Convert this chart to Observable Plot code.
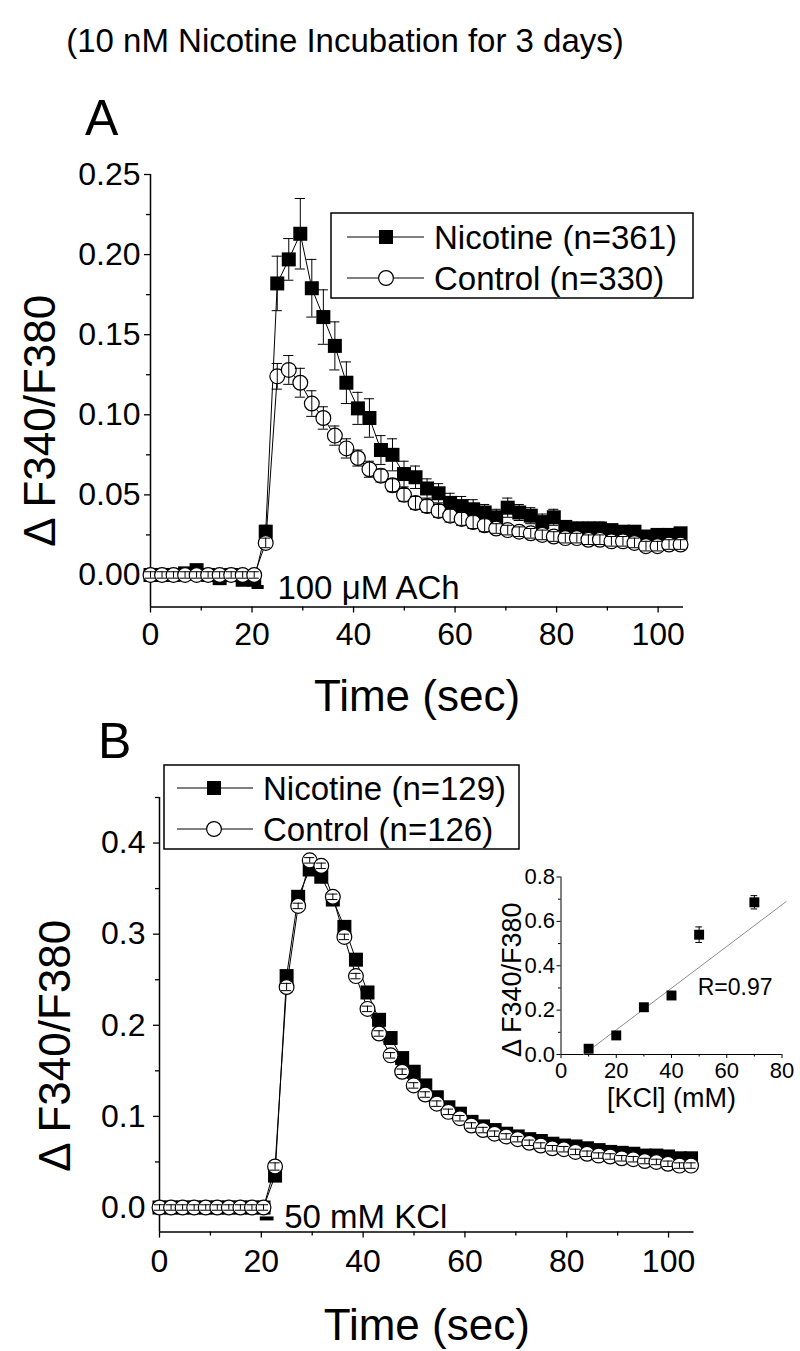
<!DOCTYPE html>
<html><head><meta charset="utf-8">
<script src="https://cdn.jsdelivr.net/npm/d3@7"></script>
<script src="https://cdn.jsdelivr.net/npm/@observablehq/plot@0.6"></script>
<style>
html,body{margin:0;padding:0;background:#fff;}
#fig{position:relative;width:800px;height:1351px;overflow:hidden;font-family:"Liberation Sans",Arial,sans-serif;color:#000;background:#fff;}
#fig svg{position:absolute;}
.lbl{position:absolute;line-height:1;white-space:nowrap;}
</style></head><body><div id="fig"></div>
<script>
// ---------------- data ----------------
const titleText = "(10 nM Nicotine Incubation for 3 days)";
const panelLetters = ["A", "B"];
const legendLabelsA = ["Nicotine (n=361)", "Control (n=330)"];
const legendLabelsB = ["Nicotine (n=129)", "Control (n=126)"];
const xLabel = "Time (sec)";
const yLabel = "\u0394 F340/F380";
const insetXLabel = "[KCl] (mM)";

const timeSec = [0, 2.27, 4.54, 6.81, 9.08, 11.35, 13.62, 15.89, 18.16, 20.43,
  22.7, 24.97, 27.24, 29.51, 31.78, 34.05, 36.32, 38.59, 40.86, 43.13,
  45.4, 47.67, 49.94, 52.21, 54.48, 56.75, 59.02, 61.29, 63.56, 65.83,
  68.1, 70.37, 72.64, 74.91, 77.18, 79.45, 81.72, 83.99, 86.26, 88.53,
  90.8, 93.07, 95.34, 97.61, 99.88, 102.15, 104.42];

// Panel A (100 uM ACh)
const nicA = [0.000, 0.000, 0.000, 0.001, 0.003, 0.000, -0.002, 0.000, -0.003, -0.003,
  0.027, 0.182, 0.197, 0.213, 0.179, 0.161, 0.143, 0.120, 0.104, 0.098,
  0.078, 0.075, 0.063, 0.061, 0.054, 0.051, 0.045, 0.043, 0.041, 0.039,
  0.036, 0.042, 0.039, 0.037, 0.033, 0.036, 0.030, 0.029, 0.029, 0.029,
  0.028, 0.027, 0.027, 0.024, 0.025, 0.025, 0.026];
const nicAErr = [0.002, 0.002, 0.002, 0.002, 0.002, 0.002, 0.002, 0.002, 0.002, 0.002,
  0.004, 0.017, 0.013, 0.022, 0.018, 0.017, 0.015, 0.013, 0.010, 0.012,
  0.009, 0.010, 0.008, 0.007, 0.006, 0.006, 0.006, 0.006, 0.006, 0.005,
  0.005, 0.006, 0.005, 0.005, 0.005, 0.005, 0.004, 0.004, 0.004, 0.004,
  0.003, 0.003, 0.003, 0.003, 0.003, 0.003, 0.003];
const conA = [0.000, 0.000, 0.000, 0.000, 0.000, 0.000, 0.000, 0.000, 0.000, 0.000,
  0.020, 0.124, 0.128, 0.120, 0.107, 0.098, 0.087, 0.079, 0.073, 0.066,
  0.062, 0.056, 0.050, 0.045, 0.043, 0.040, 0.037, 0.035, 0.033, 0.031,
  0.029, 0.028, 0.027, 0.026, 0.025, 0.024, 0.023, 0.023, 0.022, 0.022,
  0.021, 0.021, 0.020, 0.018, 0.018, 0.019, 0.019];
const conAErr = [0.002, 0.002, 0.002, 0.002, 0.002, 0.002, 0.002, 0.002, 0.002, 0.002,
  0.003, 0.008, 0.009, 0.009, 0.008, 0.007, 0.006, 0.006, 0.005, 0.005,
  0.004, 0.004, 0.004, 0.004, 0.004, 0.004, 0.004, 0.004, 0.004, 0.004,
  0.003, 0.003, 0.003, 0.003, 0.003, 0.003, 0.003, 0.003, 0.003, 0.003,
  0.003, 0.003, 0.003, 0.003, 0.003, 0.003, 0.003];

// Panel B (50 mM KCl)
const nicB = [0, 0, 0, 0, 0, 0, 0, 0, 0, 0,
  0.035, 0.254, 0.341, 0.371, 0.363, 0.338, 0.308, 0.272, 0.236, 0.206,
  0.186, 0.164, 0.149, 0.134, 0.121, 0.110, 0.103, 0.094, 0.089, 0.085,
  0.081, 0.078, 0.075, 0.073, 0.070, 0.068, 0.067, 0.065, 0.063, 0.061,
  0.060, 0.059, 0.057, 0.057, 0.056, 0.054, 0.054];
const nicBErr = [0.002, 0.002, 0.002, 0.002, 0.002, 0.002, 0.002, 0.002, 0.002, 0.002,
  0.003, 0.004, 0.004, 0.004, 0.004, 0.004, 0.004, 0.004, 0.004, 0.004,
  0.003, 0.003, 0.003, 0.003, 0.003, 0.003, 0.003, 0.003, 0.003, 0.003,
  0.003, 0.003, 0.003, 0.003, 0.003, 0.003, 0.003, 0.003, 0.003, 0.003,
  0.003, 0.003, 0.003, 0.003, 0.003, 0.003, 0.003];
const conB = [0, 0, 0, 0, 0, 0, 0, 0, 0, 0,
  0.045, 0.242, 0.331, 0.381, 0.375, 0.341, 0.297, 0.254, 0.218, 0.191,
  0.167, 0.149, 0.134, 0.124, 0.114, 0.105, 0.098, 0.090, 0.085, 0.081,
  0.078, 0.075, 0.071, 0.068, 0.065, 0.064, 0.061, 0.059, 0.057, 0.056,
  0.054, 0.053, 0.051, 0.050, 0.048, 0.046, 0.046];
const conBErr = [0.003, 0.003, 0.003, 0.003, 0.003, 0.003, 0.003, 0.003, 0.003, 0.003,
  0.004, 0.004, 0.003, 0.003, 0.003, 0.003, 0.003, 0.003, 0.003, 0.003,
  0.003, 0.003, 0.003, 0.003, 0.003, 0.003, 0.003, 0.003, 0.003, 0.003,
  0.003, 0.003, 0.003, 0.003, 0.003, 0.003, 0.003, 0.003, 0.003, 0.003,
  0.003, 0.003, 0.003, 0.003, 0.003, 0.003, 0.003];

// stimulus bars and their labels
const stimA = [{t1: 20.0, t2: 22.4, v: -0.0075}];
const annotA = [{t: 25, v: -0.0082, label: "100 \u03bcM ACh"}];
const stimB = [{t1: 19.8, t2: 22.5, v: -0.012}];
const annotB = [{t: 24.5, v: -0.011, label: "50 mM KCl"}];

// inset: peak response vs [KCl]
const kcl = [10, 20, 30, 40, 50, 70];
const kclResp = [0.026, 0.086, 0.213, 0.266, 0.540, 0.686];
const kclErr = [0.010, 0.010, 0.012, 0.015, 0.035, 0.030];
const fitSlope = 0.0094, fitIntercept = -0.077, fitRange = [8.2, 81.5];
const rLabel = [{x: 49.5, y: 0.30, text: "R=0.97"}];

// axes
const xDomain = [0, 105];
const xMajor = [0, 20, 40, 60, 80, 100];
const xMinor = [10, 30, 50, 70, 90];
const yDomainA = [-0.02, 0.25];
const yMajorA = [0, 0.05, 0.10, 0.15, 0.20, 0.25];
const yMinorA = [0.025, 0.075, 0.125, 0.175, 0.225];
const yDomainB = [-0.027, 0.45];
const yMajorB = [0, 0.1, 0.2, 0.3, 0.4];
const yMinorB = [0.05, 0.15, 0.25, 0.35, 0.45];
const insetXDomain = [0, 80];
const insetXMajor = [0, 20, 40, 60, 80];
const insetXMinor = [10, 30, 50, 70];
const insetYDomain = [0, 0.8];
const insetYMajor = [0, 0.2, 0.4, 0.6, 0.8];
const insetYMinor = [0.1, 0.3, 0.5, 0.7];

// ---------------- drawing ----------------
const FONT = '"Liberation Sans", Arial, sans-serif';
const fig = document.getElementById("fig");
const CAP = 1.0;

const rowsA = timeSec.map((t, i) => ({t, nic: nicA[i], nicE: nicAErr[i], con: conA[i], conE: conAErr[i]}));
const rowsB = timeSec.map((t, i) => ({t, nic: nicB[i], nicE: nicBErr[i], con: conB[i], conE: conBErr[i]}));

function errMarks(rows, key, ek) {
  return [
    Plot.ruleX(rows, {x: "t", y1: d => d[key] - d[ek], y2: d => d[key] + d[ek], stroke: "black", strokeWidth: 1}),
    Plot.ruleY(rows, {y: d => d[key] + d[ek], x1: d => d.t - CAP, x2: d => d.t + CAP, stroke: "black", strokeWidth: 1}),
    Plot.ruleY(rows, {y: d => d[key] - d[ek], x1: d => d.t - CAP, x2: d => d.t + CAP, stroke: "black", strokeWidth: 1})
  ];
}
function seriesMarks(rows) {
  return [
    Plot.line(rows, {x: "t", y: "nic", stroke: "black", strokeWidth: 1}),
    ...errMarks(rows, "nic", "nicE"),
    Plot.dot(rows, {x: "t", y: "nic", symbol: "square", r: 7.9, fill: "black", stroke: "none"}),
    Plot.line(rows, {x: "t", y: "con", stroke: "black", strokeWidth: 1}),
    Plot.dot(rows, {x: "t", y: "con", r: 7.4, fill: "white", stroke: "black", strokeWidth: 1.2}),
    ...errMarks(rows, "con", "conE")
  ];
}
function axisMarks(yDomain, yMajor, yMinor, yFmt, xPad, yPad) {
  return [
    Plot.ruleX([xDomain[0]], {stroke: "black", strokeWidth: 1.5}),
    Plot.ruleY([yDomain[0]], {stroke: "black", strokeWidth: 1.5}),
    Plot.axisX({ticks: xMajor, tickSize: 6, tickPadding: xPad, fontSize: 32, label: null, strokeWidth: 1.3, tickFormat: d => String(d)}),
    Plot.axisX({ticks: xMinor, tickSize: 4, label: null, strokeWidth: 1.3, tickFormat: () => ""}),
    Plot.axisY({ticks: yMajor, tickSize: 6, tickPadding: yPad, fontSize: 32, label: null, strokeWidth: 1.3, tickFormat: d3.format(yFmt)}),
    Plot.axisY({ticks: yMinor, tickSize: 4, label: null, strokeWidth: 1.3, tickFormat: () => ""})
  ];
}

const plotA = Plot.plot({
  width: 800, height: 710,
  marginTop: 174, marginLeft: 150, marginRight: 117, marginBottom: 103.5,
  x: {domain: xDomain}, y: {domain: yDomainA},
  style: {fontFamily: FONT, background: "transparent", color: "black", overflow: "visible"},
  marks: [
    ...axisMarks(yDomainA, yMajorA, yMinorA, ".2f", 9, 4),
    ...seriesMarks(rowsA),
    Plot.ruleY(stimA, {x1: "t1", x2: "t2", y: "v", stroke: "black", strokeWidth: 4}),
    Plot.text(annotA, {x: "t", y: "v", text: "label", textAnchor: "start", lineAnchor: "middle", fontSize: 33}),
    Plot.text([xLabel], {frameAnchor: "bottom", dy: 90, fontSize: 44, textAnchor: "middle", lineAnchor: "middle"}),
    Plot.text([yLabel], {frameAnchor: "left", rotate: -90, dx: -110, dy: 30, fontSize: 44, textAnchor: "middle", lineAnchor: "middle"})
  ]
});
plotA.style.left = "0px"; plotA.style.top = "0px";
fig.appendChild(plotA);

const plotB = Plot.plot({
  width: 800, height: 641,
  marginTop: 87, marginLeft: 159, marginRight: 106.5, marginBottom: 119.4,
  x: {domain: xDomain}, y: {domain: yDomainB},
  style: {fontFamily: FONT, background: "transparent", color: "black", overflow: "visible"},
  marks: [
    ...axisMarks(yDomainB, yMajorB, yMinorB, ".1f", 11, 8),
    ...seriesMarks(rowsB),
    Plot.ruleY(stimB, {x1: "t1", x2: "t2", y: "v", stroke: "black", strokeWidth: 4}),
    Plot.text(annotB, {x: "t", y: "v", text: "label", textAnchor: "start", lineAnchor: "middle", fontSize: 33}),
    Plot.text([xLabel], {frameAnchor: "bottom", dy: 94, fontSize: 44, textAnchor: "middle", lineAnchor: "middle"}),
    Plot.text([yLabel], {frameAnchor: "left", rotate: -90, dx: -104, dy: 31, fontSize: 44, textAnchor: "middle", lineAnchor: "middle"})
  ]
});
plotB.style.left = "0px"; plotB.style.top = "710px";
fig.appendChild(plotB);

// inset
const insetRows = kcl.map((k, i) => ({k, v: kclResp[i], e: kclErr[i]}));
const fitPts = fitRange.map(x => ({x, y: fitIntercept + fitSlope * x}));
const inset = Plot.plot({
  width: 320, height: 270,
  marginTop: 26.5, marginLeft: 80.5, marginRight: 18.5, marginBottom: 66,
  x: {domain: insetXDomain}, y: {domain: insetYDomain},
  style: {fontFamily: FONT, background: "transparent", color: "black", overflow: "visible"},
  marks: [
    Plot.ruleX([insetXDomain[0]], {stroke: "black", strokeWidth: 1}),
    Plot.ruleY([insetYDomain[0]], {stroke: "black", strokeWidth: 1}),
    Plot.axisX({ticks: insetXMajor, tickSize: 4, tickPadding: 4, fontSize: 22, label: null, tickFormat: d => String(d)}),
    Plot.axisX({ticks: insetXMinor, tickSize: 2.5, label: null, tickFormat: () => ""}),
    Plot.axisY({ticks: insetYMajor, tickSize: 4, tickPadding: 2, fontSize: 22, label: null, tickFormat: d3.format(".1f")}),
    Plot.axisY({ticks: insetYMinor, tickSize: 2.5, label: null, tickFormat: () => ""}),
    Plot.line(fitPts, {x: "x", y: "y", stroke: "#8c8c8c", strokeWidth: 1}),
    Plot.ruleX(insetRows, {x: "k", y1: d => d.v - d.e, y2: d => d.v + d.e, stroke: "black", strokeWidth: 1}),
    Plot.ruleY(insetRows, {y: d => d.v + d.e, x1: d => d.k - 1.2, x2: d => d.k + 1.2, stroke: "black", strokeWidth: 1}),
    Plot.ruleY(insetRows, {y: d => d.v - d.e, x1: d => d.k - 1.2, x2: d => d.k + 1.2, stroke: "black", strokeWidth: 1}),
    Plot.dot(insetRows, {x: "k", y: "v", symbol: "square", r: 5.6, fill: "black", stroke: "none"}),
    Plot.text(rLabel, {x: "x", y: "y", text: "text", textAnchor: "start", lineAnchor: "middle", fontSize: 23}),
    Plot.text([insetXLabel], {frameAnchor: "bottom", dy: 44, fontSize: 27, textAnchor: "middle", lineAnchor: "middle"}),
    Plot.text([yLabel], {frameAnchor: "left", rotate: -90, dx: -49, dy: 14, fontSize: 27, textAnchor: "middle", lineAnchor: "middle"})
  ]
});
inset.style.left = "480px"; inset.style.top = "850px";
fig.appendChild(inset);

// legends
function legend(labels, box) {
  const svg = d3.select(fig).append("svg")
    .attr("width", box.w + 4).attr("height", box.h + 4)
    .style("left", (box.x - 2) + "px").style("top", (box.y - 2) + "px").style("overflow", "visible");
  svg.append("rect").attr("x", 2).attr("y", 2).attr("width", box.w).attr("height", box.h)
    .attr("fill", "white").attr("stroke", "black").attr("stroke-width", 1.5);
  labels.forEach((lab, i) => {
    const cy = 2 + box.rows[i];
    svg.append("line").attr("x1", 2 + box.l1).attr("x2", 2 + box.l2).attr("y1", cy).attr("y2", cy)
      .attr("stroke", "black").attr("stroke-width", 1);
    if (i === 0) {
      svg.append("rect").attr("x", 2 + box.m - 7).attr("y", cy - 7).attr("width", 14).attr("height", 14).attr("fill", "black");
    } else {
      svg.append("circle").attr("cx", 2 + box.m).attr("cy", cy).attr("r", 7.4)
        .attr("fill", "white").attr("stroke", "black").attr("stroke-width", 1.2);
    }
    svg.append("text").attr("x", 2 + box.t).attr("y", cy).attr("dy", "0.35em")
      .attr("font-family", FONT).attr("font-size", 33).text(lab);
  });
}
legend(legendLabelsA, {x: 331, y: 213, w: 362, h: 85, rows: [24, 65], l1: 16, l2: 93, m: 55, t: 103});
legend(legendLabelsB, {x: 164, y: 765, w: 355, h: 84, rows: [23, 64], l1: 13, l2: 89, m: 50, t: 99});

// title and panel letters
function addLabel(text, left, baseline, size, width, align) {
  const d = document.createElement("div");
  d.className = "lbl";
  d.textContent = text;
  d.style.fontSize = size + "px";
  d.style.left = left + "px";
  d.style.top = (baseline - 0.8465 * size) + "px";
  if (width) { d.style.width = width + "px"; d.style.textAlign = align; }
  fig.appendChild(d);
}
addLabel(titleText, 0, 52, 33, 690, "center");
addLabel(panelLetters[0], 85, 135, 50);
addLabel(panelLetters[1], 98, 758, 50);
</script></body></html>
